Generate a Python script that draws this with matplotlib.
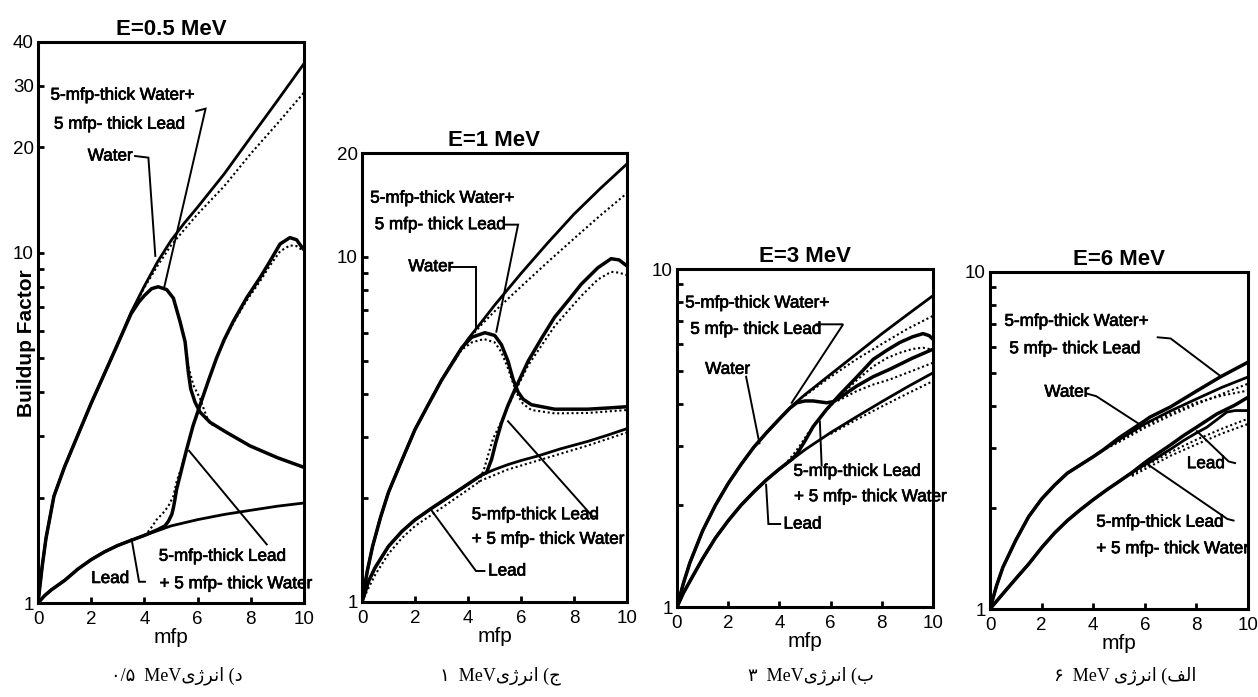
import matplotlib
matplotlib.use("Agg")
import matplotlib.pyplot as plt
import matplotlib.patheffects as pe
from matplotlib.ticker import FixedLocator, NullFormatter, FixedFormatter

plt.rcParams['font.family'] = ['Liberation Sans', 'DejaVu Sans']

# ------------------------------------------------------------------
# Data (buildup factor vs thickness in mfp)
# ------------------------------------------------------------------
titles = ["E=0.5 MeV", "E=1 MeV", "E=3 MeV", "E=6 MeV"]
x_ticks = [0, 2, 4, 6, 8, 10]
y_major_05 = [1, 10, 20, 30, 40]
y_major_1 = [1, 10, 20]
y_major_3 = [1, 10]
y_major_6 = [1, 10]
y_minor = [2, 3, 4, 5, 6, 7, 8, 9]

# ---- E = 0.5 MeV ----
e05_water_x = [0, 0.15, 0.3, 0.6, 1.0, 1.5, 2.0, 2.5, 3.0, 3.5, 4.0, 4.5, 5.0, 5.5, 6.0, 7.0, 8.0, 9.0, 10.0]
e05_water_b = [1.0, 1.26, 1.53, 2.02, 2.45, 3.02, 3.72, 4.52, 5.5, 6.76, 8.04, 9.44, 10.84, 12.16, 13.5, 16.8, 21.4, 27.2, 34.7]
e05_water_dot_x = [3.5, 4.0, 4.5, 5.0, 5.5, 6.0, 7.0, 8.0, 9.0, 10.0]
e05_water_dot_b = [6.76, 7.96, 9.2, 10.5, 11.65, 12.9, 15.5, 19.2, 23.4, 28.7]
e05_wl_x = [0, 0.15, 0.3, 0.6, 1.0, 1.5, 2.0, 2.5, 3.0, 3.5, 3.8, 4.0, 4.27, 4.52, 4.84, 5.09, 5.34, 5.53,
            5.65, 5.74, 5.9, 6.09, 6.47, 7.09, 7.97, 9.0, 10.0]
e05_wl_b = [1.0, 1.26, 1.53, 2.02, 2.45, 3.02, 3.72, 4.52, 5.5, 6.7, 7.25, 7.55, 7.9, 8.0, 7.85, 7.42, 6.36, 5.57,
            4.57, 4.09, 3.75, 3.51, 3.28, 3.07, 2.81, 2.6, 2.44]
e05_wl_dot_x = [5.5, 5.65, 5.84, 6.09, 6.25, 6.4, 6.6]
e05_wl_dot_b = [5.7, 4.75, 4.19, 3.84, 3.55, 3.32, 3.2]
e05_lead_x = [0, 0.25, 0.5, 1, 1.5, 2, 2.5, 3, 3.5, 4, 5, 6, 7, 8, 9, 10]
e05_lead_b = [1.0, 1.05, 1.09, 1.16, 1.25, 1.33, 1.4, 1.46, 1.51, 1.56, 1.66, 1.73, 1.79, 1.84, 1.89, 1.93]
e05_lw_x = [0, 0.25, 0.5, 1, 1.5, 2, 2.5, 3, 3.5, 4, 4.5, 4.77, 4.9, 5.03, 5.09, 5.15, 5.21, 5.4, 5.59, 5.83,
            6.09, 6.4, 6.71, 7.0, 7.34, 7.84, 8.35, 8.7, 9.1, 9.47, 9.72, 9.91, 10.0]
e05_lw_b = [1.0, 1.05, 1.09, 1.16, 1.25, 1.33, 1.4, 1.46, 1.51, 1.56, 1.62, 1.66, 1.71, 1.79, 1.87, 1.98, 2.11,
            2.41, 2.75, 3.21, 3.67, 4.3, 5.0, 5.65, 6.37, 7.43, 8.5, 9.4, 10.6, 11.05, 10.9, 10.4, 10.2]
e05_lw_dot_x = [4.0, 4.21, 4.46, 4.71, 4.9, 5.09, 5.21, 5.4, 5.59, 5.83, 6.09, 6.4, 6.71, 7.0, 7.34, 7.84, 8.35,
                8.7, 9.1, 9.47, 9.72, 10.0]
e05_lw_dot_b = [1.56, 1.62, 1.73, 1.81, 1.89, 2.02, 2.22, 2.45, 2.75, 3.21, 3.67, 4.3, 5.0, 5.6, 6.3, 7.3, 8.3,
                9.15, 10.1, 10.5, 10.45, 10.1]

# ---- E = 1 MeV ----
e1_water_x = [0, 0.2, 0.4, 0.7, 1.0, 1.5, 2.0, 2.5, 3.0, 3.5, 4.0, 4.5, 5.0, 6.0, 7.0, 8.0, 9.0, 10.0]
e1_water_b = [1.0, 1.23, 1.45, 1.76, 2.08, 2.57, 3.16, 3.73, 4.39, 5.08, 5.78, 6.46, 7.24, 8.95, 10.96, 13.3, 15.8, 18.6]
e1_water_dot_x = [4.0, 4.5, 5.0, 5.5, 6.0, 7.0, 8.0, 9.0, 10.0]
e1_water_dot_b = [5.75, 6.35, 6.95, 7.55, 8.2, 9.65, 11.3, 13.2, 15.3]
e1_wl_x = [0, 0.2, 0.4, 0.7, 1.0, 1.5, 2.0, 2.5, 3.0, 3.5, 3.76, 4.14, 4.64, 5.01, 5.26, 5.51, 5.7, 5.89, 6.08,
           6.39, 7.27, 8.52, 9.3, 10.0]
e1_wl_b = [1.0, 1.23, 1.45, 1.76, 2.08, 2.57, 3.16, 3.73, 4.39, 5.05, 5.45, 5.85, 6.03, 5.92, 5.57, 4.99, 4.42,
           4.06, 3.87, 3.73, 3.62, 3.62, 3.65, 3.68]
e1_wl_dot_x = [3.5, 3.76, 4.14, 4.6, 5.01, 5.26, 5.51, 5.7, 5.89, 6.08, 6.39, 7.27, 8.52, 10.0]
e1_wl_dot_b = [5.02, 5.38, 5.65, 5.78, 5.65, 5.3, 4.75, 4.31, 3.95, 3.75, 3.6, 3.52, 3.53, 3.6]
e1_lead_x = [0, 0.25, 0.5, 1.0, 1.5, 2.0, 2.63, 3.5, 4.5, 5.0, 5.5, 6.0, 6.64, 7.5, 8.52, 9.3, 10.0]
e1_lead_b = [1.0, 1.15, 1.26, 1.45, 1.6, 1.73, 1.87, 2.07, 2.33, 2.42, 2.5, 2.57, 2.65, 2.78, 2.92, 3.05, 3.18]
e1_lead_dot_x = [0, 0.25, 0.5, 1.0, 1.5, 2.0, 2.63, 3.5, 4.5, 5.5, 6.64, 8.52, 10.0]
e1_lead_dot_b = [1.0, 1.1, 1.2, 1.38, 1.53, 1.66, 1.79, 1.99, 2.25, 2.42, 2.57, 2.84, 3.1]
e1_lw_x = [0, 0.25, 0.5, 1.0, 1.5, 2.0, 2.63, 3.5, 4.5, 4.7, 4.89, 5.05, 5.26, 5.5, 5.76, 6.27, 6.8, 7.27, 7.8,
           8.27, 8.9, 9.4, 9.7, 10.0]
e1_lw_b = [1.0, 1.15, 1.26, 1.45, 1.6, 1.73, 1.87, 2.07, 2.33, 2.37, 2.59, 2.9, 3.3, 3.7, 4.11, 4.99, 5.85, 6.69,
           7.5, 8.33, 9.3, 9.88, 9.8, 9.41]
e1_lw_dot_x = [4.4, 4.6, 4.75, 4.95, 5.26, 5.5, 5.76, 6.27, 7.27, 8.27, 8.9, 9.4, 9.7, 10.0]
e1_lw_dot_b = [2.22, 2.42, 2.65, 2.98, 3.33, 3.68, 4.05, 4.85, 6.3, 7.7, 8.6, 9.05, 9.0, 8.85]

# ---- E = 3 MeV ----
e3_water_x = [0, 0.25, 0.5, 1, 1.5, 2, 2.5, 3, 3.5, 4, 4.5, 5, 6, 7, 8, 9, 10]
e3_water_b = [1.0, 1.175, 1.35, 1.68, 2.0, 2.32, 2.64, 2.97, 3.28, 3.6, 3.94, 4.25, 4.88, 5.6, 6.43, 7.33, 8.34]
e3_water_dot_x = [5, 6, 7, 8, 9, 10]
e3_water_dot_b = [4.22, 4.8, 5.4, 6.0, 6.65, 7.27]
e3_wl_x = [0, 0.25, 0.5, 1, 1.5, 2, 2.5, 3, 3.5, 4, 4.4, 4.68, 5.0, 5.32, 5.84, 6.1, 6.36, 7.01, 7.66, 8.31, 9.2, 10.0]
e3_wl_b = [1.0, 1.175, 1.35, 1.68, 2.0, 2.32, 2.64, 2.97, 3.28, 3.6, 3.87, 4.02, 4.07, 4.07, 4.02, 4.05, 4.16,
           4.5, 4.8, 5.05, 5.45, 5.79]
e3_wl_dot_x = [6.1, 6.36, 7.01, 7.66, 8.31, 9.2, 10.0]
e3_wl_dot_b = [4.03, 4.1, 4.35, 4.55, 4.71, 5.0, 5.28]
e3_lead_x = [0, 0.25, 0.5, 1, 1.5, 2, 2.5, 3, 3.5, 4, 5, 6, 7, 8, 9, 10]
e3_lead_b = [1.0, 1.1, 1.19, 1.39, 1.6, 1.8, 2.0, 2.19, 2.38, 2.56, 2.92, 3.28, 3.65, 4.05, 4.48, 4.93]
e3_lead_dot_x = [6, 7, 8, 9, 10]
e3_lead_dot_b = [3.25, 3.58, 3.92, 4.28, 4.66]
e3_lw_x = [0, 0.25, 0.5, 1, 1.5, 2, 2.5, 3, 3.5, 4, 4.5, 4.7, 5.0, 5.32, 5.84, 6.36, 7.01, 7.66, 8.2, 8.7, 9.2,
           9.61, 9.85, 10.0]
e3_lw_b = [1.0, 1.1, 1.19, 1.39, 1.6, 1.8, 2.0, 2.19, 2.38, 2.56, 2.74, 2.85, 3.1, 3.42, 3.84, 4.25, 4.78, 5.4,
           5.75, 6.06, 6.3, 6.44, 6.35, 6.2]
e3_lw_dot_x = [4.2, 4.5, 4.8, 5.1, 5.32, 5.84, 6.36, 7.01, 7.66, 8.2, 8.7, 9.2, 9.61, 9.85, 10.0]
e3_lw_dot_b = [2.63, 2.8, 3.0, 3.25, 3.42, 3.82, 4.2, 4.68, 5.15, 5.45, 5.65, 5.8, 5.85, 5.8, 5.75]

# ---- E = 6 MeV ----
e6_water_x = [0, 0.25, 0.5, 1, 1.5, 2, 2.5, 3, 4, 5, 6, 7, 8, 9, 10]
e6_water_b = [1.0, 1.17, 1.33, 1.6, 1.88, 2.12, 2.33, 2.53, 2.83, 3.18, 3.54, 3.87, 4.2, 4.55, 4.88]
e6_water_dot_x = [4.5, 5, 6, 7, 8, 9, 10]
e6_water_dot_b = [2.99, 3.13, 3.45, 3.75, 4.05, 4.35, 4.66]
e6_wl_x = [0, 0.25, 0.5, 1, 1.5, 2, 2.5, 3, 4, 4.4, 5, 6, 6.2, 7, 7.5, 8, 8.92, 10]
e6_wl_b = [1.0, 1.17, 1.33, 1.6, 1.88, 2.12, 2.33, 2.53, 2.83, 2.97, 3.22, 3.62, 3.71, 3.98, 4.2, 4.43, 4.88, 5.4]
e6_wl_dot_x = [4.5, 5, 6, 7, 8, 9, 10]
e6_wl_dot_b = [3.0, 3.15, 3.5, 3.8, 4.1, 4.3, 4.45]
e6_lead_x = [0, 0.5, 1, 1.5, 2, 2.5, 3, 3.5, 4, 4.5, 5, 5.5, 6, 6.2, 7, 7.5, 8, 8.4, 8.8, 9.18, 9.5, 10]
e6_lead_b = [1.0, 1.11, 1.23, 1.36, 1.52, 1.68, 1.83, 1.97, 2.11, 2.25, 2.39, 2.54, 2.68, 2.73, 2.98, 3.16, 3.33,
             3.46, 3.65, 3.84, 3.88, 3.88]
e6_lead_dot_x = [5.5, 6, 7, 8, 9, 10]
e6_lead_dot_b = [2.48, 2.6, 2.85, 3.08, 3.32, 3.54]
e6_lw_x = [0, 0.5, 1, 1.5, 2, 2.5, 3, 3.5, 4, 4.5, 5, 5.5, 6, 6.2, 7, 7.5, 8, 8.79, 9.5, 10]
e6_lw_b = [1.0, 1.11, 1.23, 1.36, 1.52, 1.68, 1.83, 1.97, 2.11, 2.25, 2.39, 2.54, 2.72, 2.79, 3.07, 3.27, 3.46,
           3.79, 4.03, 4.25]
e6_lw_dot_x = [5.5, 6, 7, 8, 9, 10]
e6_lw_dot_b = [2.5, 2.65, 2.92, 3.18, 3.43, 3.67]

# ---- text labels ----
lbl_wl_1 = "5-mfp-thick Water+"
lbl_wl_2 = "5 mfp- thick Lead"
lbl_lw_1 = "5-mfp-thick Lead"
lbl_lw_2 = "+ 5 mfp- thick Water"
lbl_water = "Water"
lbl_lead = "Lead"

# Persian captions, glyphs given in visual (left-to-right) order with
# contextual presentation forms, because matplotlib does not shape Arabic script.
fa_energy = "\u06CC\u0698\uFEAE\uFEE7\u0627"          # انرژی
fa_letters = ["\u062F", "\u062C", "\u0628", "\uFED2\uFEDF\u0627"]  # د ج ب الف
fa_values = ["\u06F0/\u06F5", "\u06F1", "\u06F3", "\u06F6"]          # ۰/۵ ۱ ۳ ۶

# ------------------------------------------------------------------
# Layout (pixels of the 1258 x 697 canvas)
# ------------------------------------------------------------------
W, H = 1258, 697
frames = [(38, 304, 42, 603), (362, 627, 153, 602), (677, 933, 269, 607), (990, 1248, 272, 609)]
ylims = [(1, 40), (1, 20), (1, 10), (1, 10)]
y_majors = [y_major_05, y_major_1, y_major_3, y_major_6]

SOLID_MAIN = 2.0
SOLID_MIX = 2.5
DOT_LW = 1.5
DOT_STYLE = (0, (1.0, 1.3))
LEAD_LW = 1.4

curves = [
    [(e05_lead_x, e05_lead_b, 'main'), (e05_lw_dot_x, e05_lw_dot_b, 'dot'), (e05_lw_x, e05_lw_b, 'mix'),
     (e05_water_dot_x, e05_water_dot_b, 'dot'), (e05_water_x, e05_water_b, 'main'),
     (e05_wl_dot_x, e05_wl_dot_b, 'dot'), (e05_wl_x, e05_wl_b, 'mix')],
    [(e1_lead_dot_x, e1_lead_dot_b, 'dot'), (e1_lead_x, e1_lead_b, 'main'), (e1_lw_dot_x, e1_lw_dot_b, 'dot'),
     (e1_lw_x, e1_lw_b, 'mix'), (e1_water_dot_x, e1_water_dot_b, 'dot'), (e1_water_x, e1_water_b, 'main'),
     (e1_wl_dot_x, e1_wl_dot_b, 'dot'), (e1_wl_x, e1_wl_b, 'mix')],
    [(e3_lead_dot_x, e3_lead_dot_b, 'dot'), (e3_lead_x, e3_lead_b, 'main'), (e3_lw_dot_x, e3_lw_dot_b, 'dot'),
     (e3_lw_x, e3_lw_b, 'mix'), (e3_water_dot_x, e3_water_dot_b, 'dot'), (e3_water_x, e3_water_b, 'main'),
     (e3_wl_dot_x, e3_wl_dot_b, 'dot'), (e3_wl_x, e3_wl_b, 'mix')],
    [(e6_lead_dot_x, e6_lead_dot_b, 'dot'), (e6_lw_dot_x, e6_lw_dot_b, 'dot'), (e6_lead_x, e6_lead_b, 'main'),
     (e6_lw_x, e6_lw_b, 'mix'), (e6_water_dot_x, e6_water_dot_b, 'dot'), (e6_wl_dot_x, e6_wl_dot_b, 'dot'),
     (e6_water_x, e6_water_b, 'main'), (e6_wl_x, e6_wl_b, 'mix')],
]

texts = [
    [(0.47, 28.2, lbl_wl_1), (0.6, 23.3, lbl_wl_2), (1.87, 18.9, lbl_water),
     (4.54, 1.36, lbl_lw_1), (4.57, 1.135, lbl_lw_2), (2.0, 1.175, lbl_lead)],
    [(0.31, 14.8, lbl_wl_1), (0.48, 12.4, lbl_wl_2), (1.75, 9.37, lbl_water),
     (4.14, 1.79, lbl_lw_1), (4.14, 1.52, lbl_lw_2), (4.76, 1.23, lbl_lead)],
    [(0.32, 7.93, lbl_wl_1), (0.52, 6.63, lbl_wl_2), (1.1, 5.05, lbl_water),
     (4.55, 2.52, lbl_lw_1), (4.57, 2.12, lbl_lw_2), (4.16, 1.76, lbl_lead)],
    [(0.56, 7.14, lbl_wl_1), (0.75, 5.92, lbl_wl_2), (2.11, 4.4, lbl_water),
     (4.12, 1.81, lbl_lw_1), (4.12, 1.51, lbl_lw_2), (7.63, 2.7, lbl_lead)],
]
leaders = [
    [([5.95, 6.3, 4.75], [25.4, 25.8, 8.0]),
     ([3.65, 4.15, 4.41], [18.9, 18.7, 9.8]),
     ([5.68, 8.6], [2.72, 1.47]),
     ([3.52, 3.8, 4.02], [1.52, 1.15, 1.15])],
    [([5.36, 5.89, 5.07], [12.4, 12.4, 6.07]),
     ([3.35, 4.32, 4.32], [9.37, 9.37, 6.2]),
     ([5.51, 8.7, 8.85], [3.34, 1.77, 1.77]),
     ([2.63, 4.3, 4.62], [1.84, 1.23, 1.23])],
    [([5.45, 6.49, 4.48], [6.86, 6.86, 4.02]),
     ([2.7, 3.22], [4.8, 3.05]),
     ([5.58, 5.65], [3.54, 2.62]),
     ([3.48, 3.57, 4.03], [2.3, 1.76, 1.76])],
    [([6.5, 7.0, 8.95], [6.4, 6.35, 4.9]),
     ([3.74, 4.12, 5.88], [4.36, 4.28, 3.5]),
     ([9.5, 9.25, 8.02], [2.71, 2.74, 3.37]),
     ([9.44, 9.2, 6.07], [1.83, 1.85, 2.7])],
]

fig = plt.figure(figsize=(W / 100, H / 100), dpi=100)
thick_text = [pe.withStroke(linewidth=0.5, foreground='black')]

for i in range(4):
    l, r, t, b = frames[i]
    ax = fig.add_axes([l / W, (H - b) / H, (r - l) / W, (b - t) / H])
    for xs, bs, kind in curves[i]:
        if kind == 'dot':
            ax.plot(xs, bs, color='black', lw=DOT_LW, linestyle=DOT_STYLE)
        else:
            ax.plot(xs, bs, color='black', lw=SOLID_MIX if kind == 'mix' else SOLID_MAIN,
                    solid_joinstyle='round', solid_capstyle='round')
    for tx, ty, s in texts[i]:
        ax.text(tx, ty, s, fontsize=12.3, ha='left', va='center', color='black', path_effects=thick_text)
    for lx, ly in leaders[i]:
        ax.plot(lx, ly, color='black', lw=LEAD_LW, solid_joinstyle='miter')

    ax.set_yscale('log')
    ax.set_xlim(0, 10)
    ax.set_ylim(*ylims[i])
    ax.yaxis.set_major_locator(FixedLocator(y_majors[i]))
    ax.yaxis.set_major_formatter(FixedFormatter([str(v) for v in y_majors[i]]))
    ax.yaxis.set_minor_locator(FixedLocator(y_minor))
    ax.yaxis.set_minor_formatter(NullFormatter())
    ax.xaxis.set_major_locator(FixedLocator(x_ticks))
    ax.xaxis.set_major_formatter(FixedFormatter([str(v) for v in x_ticks]))
    ax.tick_params(axis='both', which='both', direction='in', top=False, right=False,
                   length=4, width=2.0, labelsize=13.5)
    ax.tick_params(axis='x', which='major', pad=5.5)
    ax.tick_params(axis='y', which='major', pad=3)
    for sp in ax.spines.values():
        sp.set_linewidth(2.2)
    ax.set_title(titles[i], fontsize=16, fontweight='bold', pad=5)
    ax.set_xlabel('mfp', fontsize=15, labelpad=0)

    cx = (l + r) / 2 + 6
    caption = fa_values[i] + "  MeV" + ("" if i < 3 else " ") + fa_energy + " (" + fa_letters[i]
    fig.text(cx / W, (H - 676) / H, caption, ha='center', va='center', fontsize=13,
             family=['Liberation Serif', 'DejaVu Sans'])

fig.text(27 / W, (H - 343) / H, 'Buildup Factor', rotation=90, ha='center', va='center',
         fontsize=15, fontweight='bold')

fig.savefig('out.png', dpi=100)
